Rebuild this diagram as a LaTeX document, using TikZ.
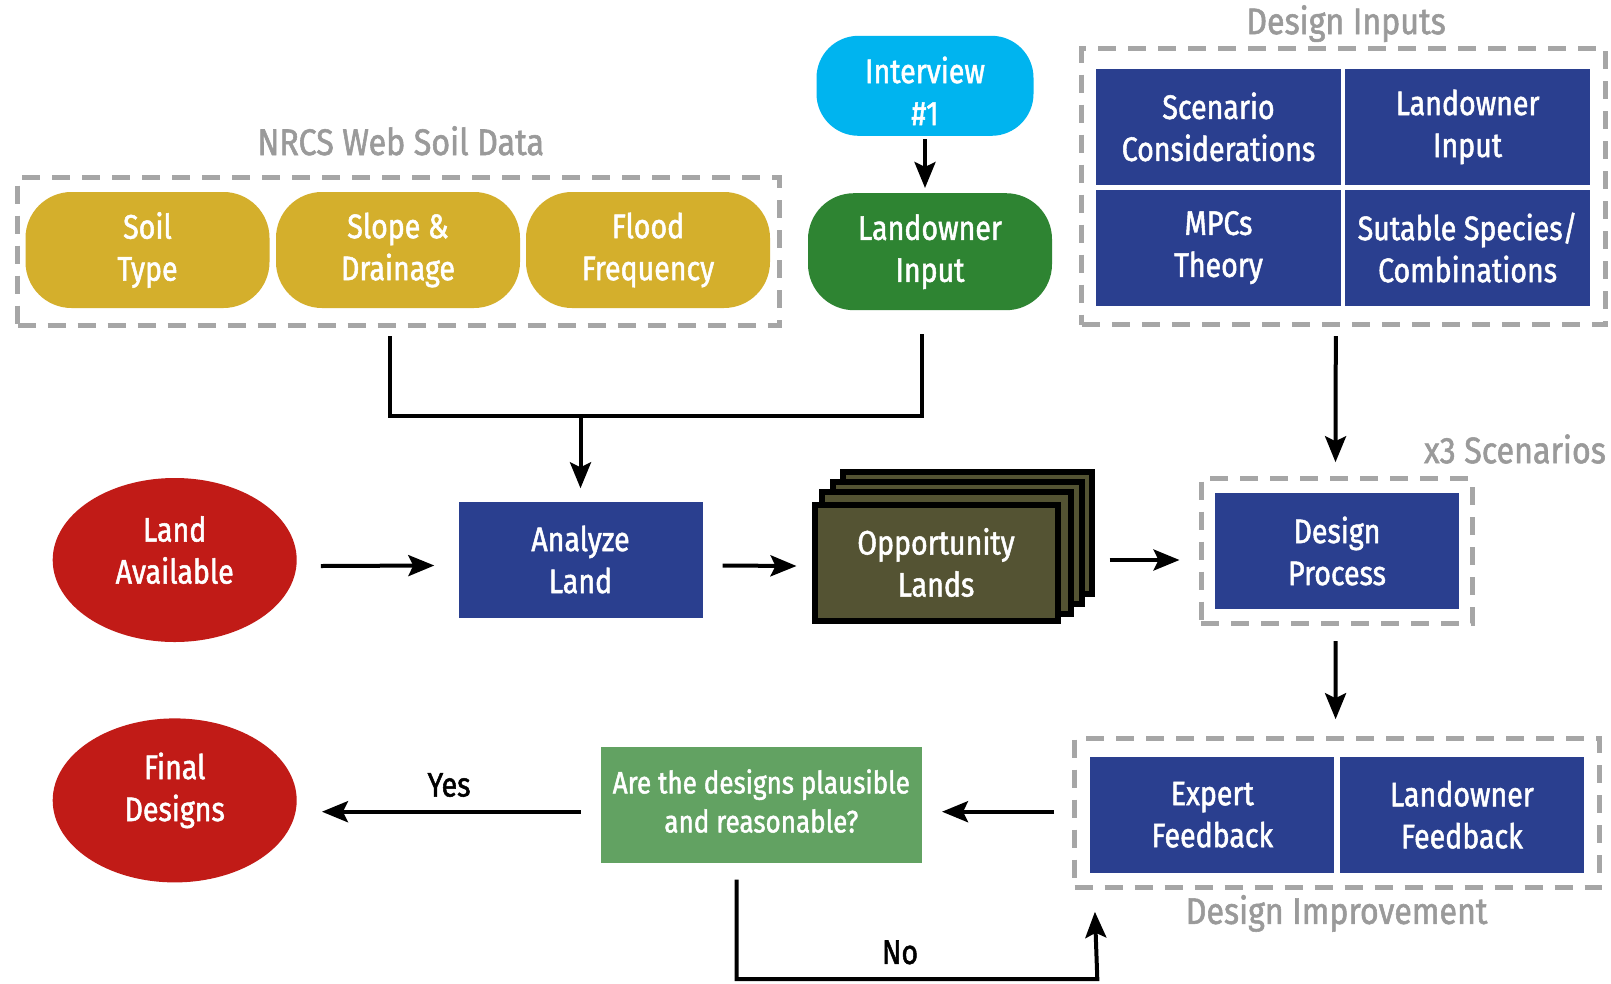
\documentclass[tikz,border=0pt]{standalone}
\usepackage{fontspec}
\setmainfont{Fira Sans}[FakeStretch=0.84, FakeBold=1.5]
\newfontfamily\labelfont{Fira Sans}[FakeStretch=0.87, FakeBold=1.5]
\usetikzlibrary{arrows.meta,shapes.geometric}

\definecolor{soilgold}{HTML}{D4AF2C}
\definecolor{skyblue}{HTML}{00B4EF}
\definecolor{leafgreen}{HTML}{2E8432}
\definecolor{navy}{HTML}{2A3F8F}
\definecolor{brick}{HTML}{C11B17}
\definecolor{olive}{HTML}{545333}
\definecolor{sage}{HTML}{62A262}
\definecolor{dashgrey}{HTML}{A6A6A6}
\definecolor{labelgrey}{HTML}{9A9A9A}

\newcommand\mainsize{\fontsize{34}{42}\selectfont}
\newcommand\smallsize{\fontsize{31}{39}\selectfont}
\newcommand\labelsize{\labelfont\fontsize{37}{42}\selectfont}

\tikzset{
  textbox/.style={align=center, text=white, font=\mainsize, inner sep=0pt,
    minimum width=244pt, minimum height=116pt},
  roundbox/.style={textbox, rounded corners=46pt},
  soilbox/.style={roundbox, fill=soilgold},
  bluebox/.style={textbox, fill=navy},
  oval/.style={ellipse, fill=brick, inner sep=0pt, minimum width=244pt, minimum height=164pt},
  ovaltext/.style={text=white, align=center, font=\mainsize, inner sep=0pt},
  groupbox/.style={draw=dashgrey, line width=5pt, dash pattern=on 18pt off 12pt,
    inner sep=0pt},
  grouplabel/.style={text=labelgrey, font=\labelsize, inner sep=0pt},
  wire/.style={line width=4pt, draw=black},
  arrow/.style={wire, -{Stealth[length=26pt,width=21pt,inset=5pt]}},
  sheet/.style={fill=olive, draw=black, line width=6pt},
}

\begin{document}
\begin{tikzpicture}[x=1pt, y=-1pt]
\useasboundingbox[fill=white] (0,0) rectangle (1611,983);

% soil data group
\node[soilbox] (soil)  at (147.5,250) {Soil\\Type};
\node[soilbox] (slope) at (398,250)   {Slope \&\\Drainage};
\node[soilbox] (flood) at (648,250)   {Flood\\Frequency};
\node[groupbox, minimum width=762pt, minimum height=148pt] (nrcs) at (398.6,251.7) {};
\node[grouplabel] (nrcslabel) at (400.7,140.8) {NRCS Web Soil Data};

% interview and landowner input
\node[roundbox, fill=skyblue, minimum width=217pt, minimum height=100pt, rounded corners=42pt]
  (interview) at (925,85.8) {};
\node[ovaltext] (interviewtext) at ([yshift=-5pt]interview.center) {Interview\\\#1};
\node[roundbox, fill=leafgreen, minimum height=117pt] (owner) at (930,251.7) {Landowner\\Input};

% design inputs group
\node[bluebox, minimum width=245pt] (scen)    at (1218.5,126.9) {Scenario\\Considerations};
\node[bluebox, minimum width=245pt] (ownin)   at (1467.6,126.9) {Landowner\\Input};
\node[bluebox, minimum width=245pt] (mpc)     at (1218.5,247.6) {MPCs\\Theory};
\node[bluebox, minimum width=245pt] (species) at (1467.6,247.6) {Sutable Species/\\Combinations};
\node[groupbox, minimum width=524pt, minimum height=276pt] (inputs) at (1343.8,186.5) {};
\node[grouplabel] (inputslabel) at (1346,23.6) {Design Inputs};

% middle row
\node[oval] (land) at (174.7,560) {};
\node[ovaltext] (landtext) at ([yshift=10pt]land.center) {Land\\Available};
\node[bluebox] (analyze) at (580.5,559.5) {Analyze\\Land};

\node[sheet, minimum width=243pt, minimum height=116pt, inner sep=0pt] (opp) at (936,562.5) {};
\foreach \d in {31.5,21,10.5}
  \draw[sheet] ([shift={(\d,-0.952*\d)}]opp.north west) rectangle ([shift={(\d,-0.952*\d)}]opp.south east);
\node[sheet, minimum width=243pt, minimum height=116pt, inner sep=0pt, text=white,
  align=center, font=\mainsize] (oppfront) at (opp) {Opportunity\\Lands};

\node[bluebox] (process) at (1337,551) {Design\\Process};
\node[groupbox, minimum width=271pt, minimum height=145pt] (scenarios) at (1336.5,551.2) {};
\node[grouplabel, anchor=east] (x3) at (1606,449) {x3 Scenarios};

% bottom row
\node[oval] (final) at (174.7,800.4) {};
\node[ovaltext] (finaltext) at ([yshift=10pt]final.center) {Final\\Designs};
\node[textbox, fill=sage, minimum width=321pt] (check) at (761.3,805) {};
\node[ovaltext, font=\smallsize] (checktext) at ([yshift=4pt]check.center) {Are the designs plausible\\and reasonable?};
\node[bluebox] (expert) at (1212.3,814.7) {Expert\\Feedback};
\node[bluebox] (ownfb)  at (1461.9,814.7) {Landowner\\Feedback};
\node[groupbox, minimum width=525pt, minimum height=149pt] (improve) at (1337.2,813.2) {};
\node[grouplabel] (improvelabel) at (1336.6,913.4) {Design Improvement};

% connectors
\coordinate (merge) at (580.5,416);
\draw[wire] ([xshift=-9pt,yshift=-8pt]nrcs.south) |- (merge);
\draw[wire] ([xshift=-8pt,yshift=-24pt]owner.south) |- (merge);
\draw[arrow] (merge) -- ([yshift=13pt]analyze.north);

\draw[arrow] ([yshift=-3pt]interview.south) -- ([yshift=5pt]owner.north -| interview.south);

\draw[arrow] ([xshift=24pt,yshift=-6pt]land.east) -- ([xshift=-24pt,yshift=-6pt]analyze.west);
\draw[arrow] ([xshift=20pt,yshift=-6pt]analyze.east) -- ([xshift=-15pt,yshift=-3.5pt]oppfront.west);
\draw[arrow] ([xshift=49pt,yshift=2.5pt]oppfront.east) -- ([xshift=-19pt,yshift=-8.8pt]scenarios.west);

\draw[arrow] ([xshift=-8pt,yshift=-9pt]inputs.south) -- ([xshift=-1pt,yshift=14pt]scenarios.north);
\draw[arrow] ([xshift=-1pt,yshift=-15pt]scenarios.south) -- ([xshift=-1.6pt,yshift=17pt]improve.north);

\draw[arrow] ([xshift=-18pt,yshift=1.5pt]improve.west) -- ([xshift=20pt,yshift=-6.7pt]check.east);
\draw[arrow] ([xshift=-20pt,yshift=-6.7pt]check.west) -- ([xshift=25pt,yshift=-11.3pt]final.east);
\node[font=\mainsize, inner sep=0pt] (yes) at (449,785) {Yes};

\coordinate (nobase) at (1097.3,979);
\draw[arrow] ([xshift=-24.7pt,yshift=-16.5pt]check.south) |- (nobase)
  -- ([xshift=22.7pt,yshift=-21.6pt]improve.south west);
\node[font=\mainsize, inner sep=0pt] (no) at (900,952.4) {No};
\end{tikzpicture}
\end{document}
